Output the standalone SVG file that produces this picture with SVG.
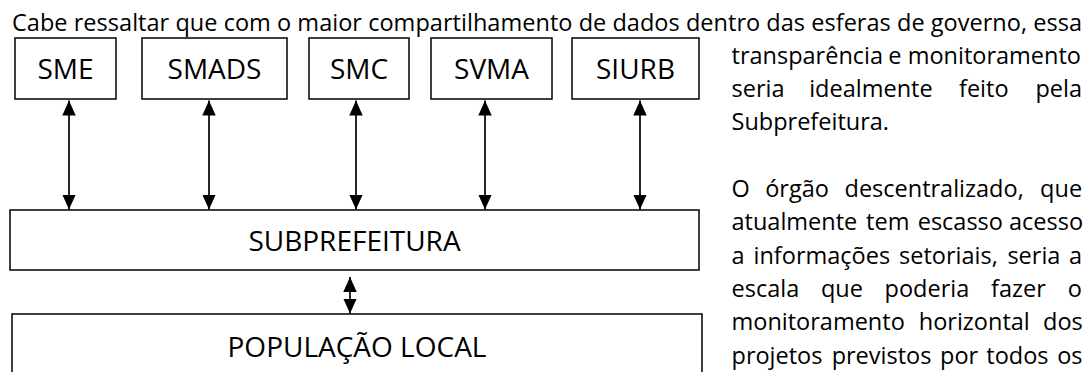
<svg xmlns="http://www.w3.org/2000/svg" width="1085" height="372" viewBox="0 0 1085 372">
<style>
.body{font-family:"Open Sans","Liberation Sans",sans-serif;font-size:23.5px;fill:#000}
.lbl{font-family:"Open Sans","Liberation Sans",sans-serif;font-size:28px;fill:#000;text-anchor:middle}
.box{fill:#fff;stroke:#000;stroke-width:1.5}
.conn{stroke:#000;stroke-width:1.7;fill:none;marker-start:url(#ah);marker-end:url(#ah)}
</style>
<defs>
<marker id="ah" viewBox="0 0 10 10" refX="10" refY="5" markerWidth="15" markerHeight="15" markerUnits="userSpaceOnUse" orient="auto-start-reverse"><path d="M0,0.5 L10,5 L0,9.5 z" fill="#000"/></marker>
</defs>
<rect width="1085" height="372" fill="#fff"/>
<g id="paragraph">
<text class="body" x="12" y="30.5" textLength="1070" lengthAdjust="spacing">Cabe ressaltar que com o maior compartilhamento de dados dentro das esferas de governo, essa</text>
<text class="body" y="63.8"><tspan x="731.5">transparência</tspan><tspan x="888.3">e</tspan><tspan x="907.7">monitoramento</tspan></text>
<text class="body" y="97.1"><tspan x="731.5">seria</tspan><tspan x="809.2">idealmente</tspan><tspan x="959">feito</tspan><tspan x="1035.4">pela</tspan></text>
<text class="body" x="731.5" y="130.4">Subprefeitura.</text>
<text class="body" y="197"><tspan x="731.5">O</tspan><tspan x="765.2">órgão</tspan><tspan x="844.5">descentralizado,</tspan><tspan x="1040.1">que</tspan></text>
<text class="body" y="230.3"><tspan x="731.5">atualmente</tspan><tspan x="866.1">tem</tspan><tspan x="917.7">escasso</tspan><tspan x="1009">acesso</tspan></text>
<text class="body" y="263.6"><tspan x="731.5">a</tspan><tspan x="753.5">informações</tspan><tspan x="899">setoriais,</tspan><tspan x="1007.4">seria</tspan><tspan x="1069.1">a</tspan></text>
<text class="body" y="296.9"><tspan x="731.5">escala</tspan><tspan x="820.9">que</tspan><tspan x="884.6">poderia</tspan><tspan x="991.1">fazer</tspan><tspan x="1067.7">o</tspan></text>
<text class="body" y="330.2"><tspan x="731.5">monitoramento</tspan><tspan x="918.75">horizontal</tspan><tspan x="1043">dos</tspan></text>
<text class="body" y="363.5"><tspan x="731.5">projetos</tspan><tspan x="831.65">previstos</tspan><tspan x="940">por</tspan><tspan x="986.35">todos</tspan><tspan x="1057.2">os</tspan></text>
</g>
<g id="connectors">
<line class="conn" x1="69" y1="100.5" x2="69" y2="209.5"/>
<line class="conn" x1="209" y1="100.5" x2="209" y2="209.5"/>
<line class="conn" x1="356" y1="100.5" x2="356" y2="209.5"/>
<line class="conn" x1="485" y1="100.5" x2="485" y2="209.5"/>
<line class="conn" x1="640" y1="100.5" x2="640" y2="209.5"/>
<line class="conn" x1="350" y1="277" x2="350" y2="313.5"/>
</g>
<g id="sme"><rect class="box" x="15" y="38" width="101" height="61"/><text class="lbl" x="65.5" y="79">SME</text></g>
<g id="smads"><rect class="box" x="142" y="38" width="145" height="61"/><text class="lbl" x="214.5" y="79">SMADS</text></g>
<g id="smc"><rect class="box" x="309" y="38" width="100" height="61"/><text class="lbl" x="359" y="79">SMC</text></g>
<g id="svma"><rect class="box" x="431" y="38" width="121" height="61"/><text class="lbl" x="491.5" y="79">SVMA</text></g>
<g id="siurb"><rect class="box" x="572" y="38" width="127" height="61"/><text class="lbl" x="635.5" y="79">SIURB</text></g>
<g id="subprefeitura"><rect class="box" x="10" y="210" width="689" height="60"/><text class="lbl" x="354.5" y="251">SUBPREFEITURA</text></g>
<g id="populacao"><rect class="box" x="12" y="314" width="690" height="80"/><text class="lbl" x="357" y="357">POPULAÇÃO LOCAL</text></g>
</svg>
